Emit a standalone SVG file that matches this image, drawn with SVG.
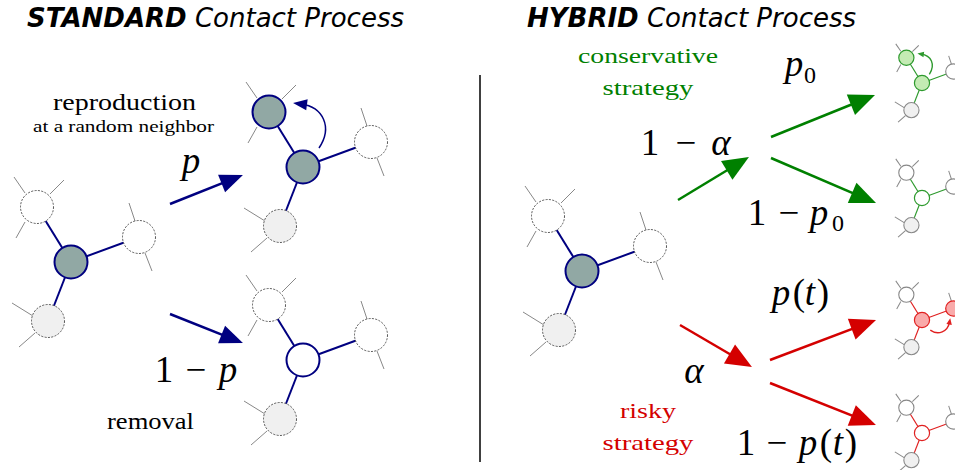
<svg xmlns="http://www.w3.org/2000/svg" width="955" height="470" viewBox="0 0 955 470">
<rect width="955" height="470" fill="#fff"/>

<text font-family="Liberation Serif" x="53" y="110" font-size="24" textLength="143" lengthAdjust="spacingAndGlyphs">reproduction</text>
<text font-family="Liberation Serif" x="33" y="132" font-size="17" textLength="181" lengthAdjust="spacingAndGlyphs">at a random neighbor</text>
<text font-family="Liberation Serif" x="107" y="429" font-size="24" textLength="87" lengthAdjust="spacingAndGlyphs">removal</text>
<text font-family="Liberation Serif" font-style="italic" x="191" y="173" font-size="37" text-anchor="middle">p</text>
<text font-family="Liberation Serif" font-size="37" text-anchor="middle"><tspan x="164" y="382">1</tspan><tspan x="196" y="382">−</tspan><tspan font-style="italic" x="228" y="382">p</tspan></text>

<text font-family="Liberation Serif" x="648" y="63" font-size="22" fill="#008000" text-anchor="middle" textLength="140" lengthAdjust="spacingAndGlyphs">conservative</text>
<text font-family="Liberation Serif" x="648" y="95" font-size="22" fill="#008000" text-anchor="middle" textLength="91" lengthAdjust="spacingAndGlyphs">strategy</text>
<text font-family="Liberation Serif" x="648" y="418" font-size="22" fill="#d40000" text-anchor="middle" textLength="56" lengthAdjust="spacingAndGlyphs">risky</text>
<text font-family="Liberation Serif" x="648" y="450" font-size="22" fill="#d40000" text-anchor="middle" textLength="91" lengthAdjust="spacingAndGlyphs">strategy</text>

<text font-family="Liberation Serif" font-size="37" text-anchor="middle"><tspan x="650" y="155">1</tspan><tspan x="686" y="155">−</tspan><tspan font-style="italic" x="721" y="155">α</tspan></text>
<text font-family="Liberation Serif" font-size="37" text-anchor="middle"><tspan font-style="italic" x="794" y="76">p</tspan><tspan x="810" y="83" font-size="24">0</tspan></text>
<text font-family="Liberation Serif" font-size="37" text-anchor="middle"><tspan x="757" y="225">1</tspan><tspan x="789" y="225">−</tspan><tspan font-style="italic" x="819" y="225">p</tspan><tspan x="838" y="231" font-size="24">0</tspan></text>
<text font-family="Liberation Serif" font-size="37" text-anchor="middle"><tspan font-style="italic" x="781" y="305">p</tspan><tspan x="799" y="305">(</tspan><tspan font-style="italic" x="810" y="305">t</tspan><tspan x="823" y="305">)</tspan></text>
<text font-family="Liberation Serif" font-style="italic" x="694" y="383" font-size="37" text-anchor="middle">α</text>
<text font-family="Liberation Serif" font-size="37" text-anchor="middle"><tspan x="746" y="455">1</tspan><tspan x="777" y="455">−</tspan><tspan font-style="italic" x="808" y="455">p</tspan><tspan x="826" y="455">(</tspan><tspan font-style="italic" x="838" y="455">t</tspan><tspan x="851" y="455">)</tspan></text>

<defs>
<g id="stubs">
<line x1="-57" y1="-85" x2="-46" y2="-69"/>
<line x1="-21" y1="-68" x2="-7" y2="-82"/>
<line x1="-46" y1="-40" x2="-55" y2="-24"/>
<line x1="58" y1="-59" x2="64" y2="-41"/>
<line x1="74" y1="-9" x2="81" y2="9"/>
<line x1="-59" y1="41" x2="-38" y2="54"/>
<line x1="-52" y1="85" x2="-36" y2="71"/>
</g>
<g id="edges">
<line x1="0" y1="0" x2="-34" y2="-55"/><line x1="0" y1="0" x2="68" y2="-25"/><line x1="0" y1="0" x2="-23" y2="59"/>
</g>
<marker id="mB" markerUnits="userSpaceOnUse" orient="auto" refX="0" refY="0" markerWidth="40" markerHeight="40" overflow="visible"><path d="M-11,-9.5 L12,0 L-11,9.5 z" fill="#000080"/></marker>
<marker id="mG" markerUnits="userSpaceOnUse" orient="auto" refX="0" refY="0" markerWidth="40" markerHeight="40" overflow="visible"><path d="M-14,-11 L12,0 L-14,11 z" fill="#008000"/></marker>
<marker id="mR" markerUnits="userSpaceOnUse" orient="auto" refX="0" refY="0" markerWidth="40" markerHeight="40" overflow="visible"><path d="M-14,-11 L12,0 L-14,11 z" fill="#d40000"/></marker>
<marker id="cB" markerUnits="userSpaceOnUse" orient="auto" refX="0" refY="0" markerWidth="30" markerHeight="30" overflow="visible"><path d="M-6,-5.5 L8,0 L-6,5.5 z" fill="#000080"/></marker>
<marker id="cG" markerUnits="userSpaceOnUse" orient="auto" refX="0" refY="0" markerWidth="30" markerHeight="30" overflow="visible"><path d="M-6,-6 L8,0 L-6,6 z" fill="#2e9a2e"/></marker>
<marker id="cR" markerUnits="userSpaceOnUse" orient="auto" refX="0" refY="0" markerWidth="30" markerHeight="30" overflow="visible"><path d="M-6,-6 L8,0 L-6,6 z" fill="#e02020"/></marker>
</defs>

<line x1="480" y1="75" x2="480" y2="462" stroke="#000" stroke-width="1.5"/>

<g id="std-init" transform="translate(71,262)">
<use href="#stubs" stroke="#888" stroke-width="1"/>
<use href="#edges" stroke="#000080" stroke-width="2"/>
<g stroke="#555" stroke-width="1" stroke-dasharray="2 1.4">
<circle cx="-34" cy="-55" r="16.5" fill="#fff"/><circle cx="68" cy="-25" r="16.5" fill="#fff"/><circle cx="-23" cy="59" r="16.5" fill="#f0f0f0"/>
</g>
<circle cx="0" cy="0" r="16.5" fill="#91a8a4" stroke="#000080" stroke-width="2"/>
</g>

<g id="std-repro" transform="translate(303,167)">
<use href="#stubs" stroke="#888" stroke-width="1"/>
<use href="#edges" stroke="#000080" stroke-width="2"/>
<g stroke="#555" stroke-width="1" stroke-dasharray="2 1.4">
<circle cx="68" cy="-25" r="16.5" fill="#fff"/><circle cx="-23" cy="59" r="16.5" fill="#f0f0f0"/>
</g>
<circle cx="-34" cy="-55" r="16.5" fill="#91a8a4" stroke="#000080" stroke-width="2"/>
<circle cx="0" cy="0" r="16.5" fill="#91a8a4" stroke="#000080" stroke-width="2"/>
<path d="M16,-19 C30,-40 20,-60 -2,-63" fill="none" stroke="#000080" stroke-width="1.5" marker-end="url(#cB)"/>
</g>

<g id="std-removal" transform="translate(303,360)">
<use href="#stubs" stroke="#888" stroke-width="1"/>
<use href="#edges" stroke="#000080" stroke-width="2"/>
<g stroke="#555" stroke-width="1" stroke-dasharray="2 1.4">
<circle cx="-34" cy="-55" r="16.5" fill="#fff"/><circle cx="68" cy="-25" r="16.5" fill="#fff"/><circle cx="-23" cy="59" r="16.5" fill="#f0f0f0"/>
</g>
<circle cx="0" cy="0" r="16.5" fill="#fff" stroke="#000080" stroke-width="2"/>
</g>

<g id="hyb-init" transform="translate(582,271)">
<use href="#stubs" stroke="#888" stroke-width="1"/>
<use href="#edges" stroke="#000080" stroke-width="2"/>
<g stroke="#555" stroke-width="1" stroke-dasharray="2 1.4">
<circle cx="-34" cy="-55" r="16.5" fill="#fff"/><circle cx="68" cy="-25" r="16.5" fill="#fff"/><circle cx="-23" cy="59" r="16.5" fill="#f0f0f0"/>
</g>
<circle cx="0" cy="0" r="16.5" fill="#91a8a4" stroke="#000080" stroke-width="2"/>
</g>

<g id="hyb-cons-repro" transform="translate(922,83) scale(0.46)">
<use href="#stubs" stroke="#888" stroke-width="2.2"/>
<use href="#edges" stroke="#2e9a2e" stroke-width="2.6"/>
<g stroke="#888" stroke-width="2.4">
<circle cx="68" cy="-25" r="16.5" fill="#fff"/><circle cx="-23" cy="59" r="16.5" fill="#f0f0f0"/>
</g>
<circle cx="-34" cy="-55" r="16.5" fill="#c4ebb4" stroke="#2e9a2e" stroke-width="2.6"/>
<circle cx="0" cy="0" r="16.5" fill="#c4ebb4" stroke="#2e9a2e" stroke-width="2.6"/>
<path d="M16,-19 C30,-40 20,-60 -2,-63" fill="none" stroke="#2e9a2e" stroke-width="3" marker-end="url(#cG)"/>
</g>

<g id="hyb-cons-removal" transform="translate(922,198) scale(0.46)">
<use href="#stubs" stroke="#888" stroke-width="2.2"/>
<use href="#edges" stroke="#2e9a2e" stroke-width="2.6"/>
<g stroke="#888" stroke-width="2.4">
<circle cx="-34" cy="-55" r="16.5" fill="#fff"/><circle cx="68" cy="-25" r="16.5" fill="#fff"/><circle cx="-23" cy="59" r="16.5" fill="#f0f0f0"/>
</g>
<circle cx="0" cy="0" r="16.5" fill="#fff" stroke="#2e9a2e" stroke-width="2.6"/>
</g>

<g id="hyb-risky-repro" transform="translate(922,320) scale(0.46)">
<use href="#stubs" stroke="#888" stroke-width="2.2"/>
<use href="#edges" stroke="#e02020" stroke-width="2.6"/>
<g stroke="#888" stroke-width="2.4">
<circle cx="-34" cy="-55" r="16.5" fill="#fff"/><circle cx="-23" cy="59" r="16.5" fill="#f0f0f0"/>
</g>
<circle cx="68" cy="-25" r="16.5" fill="#f9aaaa" stroke="#e02020" stroke-width="2.6"/>
<circle cx="0" cy="0" r="16.5" fill="#f9aaaa" stroke="#e02020" stroke-width="2.6"/>
<path d="M18,22 C35,34 56,26 60,4" fill="none" stroke="#e02020" stroke-width="3" marker-end="url(#cR)"/>
</g>

<g id="hyb-risky-removal" transform="translate(922,433) scale(0.46)">
<use href="#stubs" stroke="#888" stroke-width="2.2"/>
<use href="#edges" stroke="#e02020" stroke-width="2.6"/>
<g stroke="#888" stroke-width="2.4">
<circle cx="-34" cy="-55" r="16.5" fill="#fff"/><circle cx="68" cy="-25" r="16.5" fill="#fff"/><circle cx="-23" cy="59" r="16.5" fill="#f0f0f0"/>
</g>
<circle cx="0" cy="0" r="16.5" fill="#fff" stroke="#e02020" stroke-width="2.6"/>
</g>

<g id="connectors" fill="none" stroke-width="2.5">
<line stroke="#000080" x1="170" y1="204" x2="231.8" y2="179.4" marker-end="url(#mB)"/>
<line stroke="#000080" x1="170" y1="314" x2="231.8" y2="338.6" marker-end="url(#mB)"/>
<line stroke="#008000" x1="678" y1="200" x2="738.7" y2="163.2" marker-end="url(#mG)"/>
<line stroke="#008000" x1="771" y1="137" x2="863.9" y2="99.5" marker-end="url(#mG)"/>
<line stroke="#008000" x1="771" y1="158" x2="865" y2="198.3" marker-end="url(#mG)"/>
<line stroke="#d40000" x1="680" y1="325" x2="741.6" y2="361" marker-end="url(#mR)"/>
<line stroke="#d40000" x1="770" y1="360" x2="864.8" y2="324.2" marker-end="url(#mR)"/>
<line stroke="#d40000" x1="770" y1="383" x2="864.8" y2="420.6" marker-end="url(#mR)"/>
</g>

<text x="27" y="27" font-family="DejaVu Sans" font-size="26" font-style="oblique"><tspan font-weight="bold">STANDARD</tspan> Contact Process</text>
<text x="527" y="27" font-family="DejaVu Sans" font-size="26" font-style="oblique"><tspan font-weight="bold">HYBRID</tspan> Contact Process</text>
</svg>
